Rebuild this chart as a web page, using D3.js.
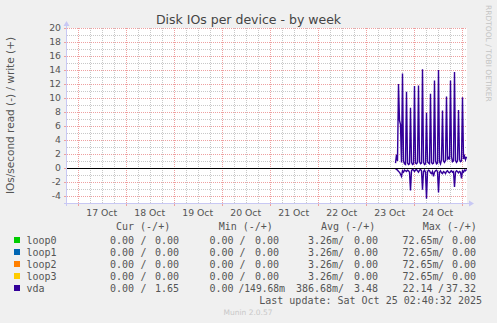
<!DOCTYPE html>
<html lang="en">
<head>
    <meta charset="UTF-8">
    <title>Disk IOs per device - by week</title>
    <script src="https://d3js.org/d3.v7.min.js"></script>
    <style>
        body { margin: 0; background: #f0f0f0; }
        svg { display: block; }
    </style>
</head>
<body>
    <svg width="497" height="323" id="chart"></svg>

    <script>
        // vda samples, one every 30 minutes starting at vdaStart (UTC)
        const vdaStart = Date.UTC(2025, 9, 23, 14, 40);
        const vdaWrite = [
            0.7, 1.9, 1.0, 12.0, 6.8, 6.2, 0.8, 13.5, 1.0, 0.6, 0.5, 10.9,
            0.7, 0.5, 0.6, 8.6, 0.8, 0.5, 0.6, 11.7, 0.7, 0.6, 0.8, 11.8,
            0.9, 0.6, 0.7, 14.1, 0.8, 0.5, 0.6, 7.9, 0.9, 0.7, 0.6, 10.6,
            0.8, 0.6, 0.7, 12.5, 1.0, 0.6, 0.7, 14.0, 0.9, 0.6, 1.2, 8.2,
            1.0, 0.8, 1.1, 10.2, 1.3, 1.5, 1.2, 12.5, 1.6, 0.9, 1.0, 13.7,
            1.1, 0.8, 1.0, 8.3, 1.2, 0.9, 1.0, 10.1, 1.3, 1.7, 1.2, 1.6
        ];
        const vdaRead = [
            0.1, 0.2, 0.3, 0.5, 0.6, 0.9, 1.2, 0.4, 0.6, 0.3, 0.4, 0.5,
            0.3, 0.4, 0.6, 3.2, 0.4, 0.2, 0.3, 0.5, 0.3, 0.2, 0.4, 0.6,
            0.3, 0.2, 0.4, 3.1, 0.5, 0.3, 0.6, 4.4, 0.5, 0.3, 0.4, 0.7,
            0.8, 0.5, 1.2, 0.6, 0.4, 0.3, 0.5, 3.5, 0.6, 0.4, 0.7, 0.8,
            0.5, 0.6, 0.8, 0.5, 0.4, 0.6, 0.7, 0.5, 0.4, 0.6, 0.5, 2.7,
            0.6, 0.4, 0.5, 0.7, 0.5, 0.6, 1.5, 0.4, 0.6, 0.3, 0.4, 0.2
        ];

        const yTicks = [-4, -2, 0, 2, 4, 6, 8, 10, 12, 14, 16, 18, 20];
        const dayLabels = ["17 Oct", "18 Oct", "19 Oct", "20 Oct", "21 Oct", "22 Oct", "23 Oct", "24 Oct"];

        // legend
        const names = ["loop0", "loop1", "loop2", "loop3", "vda"];
        const colors = ["#00cc00", "#0066b3", "#ff8000", "#ffcc00", "#330099"];
        const curRead = [0, 0, 0, 0, 0];
        const curWrite = [0, 0, 0, 0, 1.65];
        const minRead = [0, 0, 0, 0, 0];
        const minWrite = [0, 0, 0, 0, 0.14968];
        const avgRead = [0.00326, 0.00326, 0.00326, 0.00326, 0.38668];
        const avgWrite = [0, 0, 0, 0, 3.48];
        const maxRead = [0.07265, 0.07265, 0.07265, 0.07265, 22.14];
        const maxWrite = [0, 0, 0, 0, 37.32];
        const lastUpdate = "Last update: Sat Oct 25 02:40:32 2025";

        const svg = d3.select("#chart");
        const pLeft = 67, pRight = 467, pTop = 28, pBottom = 203;
        const tEnd = Date.UTC(2025, 9, 25, 2, 40);
        const tStart = tEnd - 400 * 30 * 60 * 1000;  // 400 px, 30 min per px

        const x = d3.scaleUtc().domain([tStart, tEnd]).range([pLeft, pRight]);
        const y = d3.scaleLinear().domain([-5, 20]).range([pBottom, pTop]);

        const sans = "'DejaVu Sans', sans-serif";
        const mono = "'DejaVu Sans Mono', monospace";
        const minorCol = "#c8c8c8";
        const majorCol = "#eea0a0";

        // canvas
        svg.append("rect").attr("x", pLeft).attr("y", pTop)
            .attr("width", pRight - pLeft).attr("height", pBottom - pTop)
            .attr("fill", "#ffffff");

        const grid = svg.append("g").attr("fill", "none").attr("stroke-width", 1);

        // horizontal grid, every unit, red on labelled values
        d3.range(-4, 21).forEach(v => {
            const yy = Math.round(y(v)) + 0.5;
            const major = v % 2 === 0;
            grid.append("line").attr("x1", pLeft).attr("x2", pRight)
                .attr("y1", yy).attr("y2", yy)
                .attr("stroke", major ? majorCol : minorCol)
                .attr("stroke-dasharray", "1,1");
            if (major) {
                grid.append("line").attr("x1", pLeft - 3).attr("x2", pLeft)
                    .attr("y1", yy).attr("y2", yy).attr("stroke", majorCol);
            }
        });

        // vertical grid, every 6 hours, red at midnight
        d3.utcHour.every(6).range(new Date(tStart), new Date(tEnd)).forEach(d => {
            const xx = Math.round(x(d)) + 0.5;
            const major = d.getUTCHours() === 0;
            grid.append("line").attr("x1", xx).attr("x2", xx)
                .attr("y1", pTop).attr("y2", pBottom)
                .attr("stroke", major ? majorCol : minorCol)
                .attr("stroke-dasharray", "1,1");
            if (major) {
                grid.append("line").attr("x1", xx).attr("x2", xx)
                    .attr("y1", pBottom).attr("y2", pBottom + 3).attr("stroke", majorCol);
            }
        });

        // axes
        const axisCol = "#c8c8f4";
        svg.append("line").attr("x1", pLeft - 0.5).attr("x2", pLeft - 0.5)
            .attr("y1", pBottom + 3).attr("y2", pTop - 4).attr("stroke", axisCol);
        svg.append("path").attr("d", `M${pLeft - 3.5},${pTop - 2} L${pLeft + 2.5},${pTop - 2} L${pLeft - 0.5},${pTop - 7} Z`)
            .attr("fill", axisCol);
        svg.append("line").attr("x1", pLeft - 3).attr("x2", pRight + 3)
            .attr("y1", pBottom + 0.5).attr("y2", pBottom + 0.5).attr("stroke", axisCol);
        svg.append("path").attr("d", `M${pRight + 2},${pBottom - 2.5} L${pRight + 2},${pBottom + 3.5} L${pRight + 7},${pBottom + 0.5} Z`)
            .attr("fill", axisCol);

        // tick labels
        svg.append("g").selectAll("text").data(yTicks).join("text")
            .attr("x", 61).attr("y", d => y(d) + 3.3)
            .attr("text-anchor", "end")
            .attr("font-family", sans).attr("font-size", 9.3).attr("fill", "#555")
            .text(d => d);

        const noons = dayLabels.map((s, i) => Date.UTC(2025, 9, 17 + i, 12));
        svg.append("g").selectAll("text").data(noons).join("text")
            .attr("x", d => x(d)).attr("y", 216)
            .attr("text-anchor", "middle")
            .attr("font-family", sans).attr("font-size", 9.3).attr("fill", "#555")
            .text((d, i) => dayLabels[i]);

        // vda read (down) and write (up)
        const pts = vdaWrite.map((w, i) => ({ t: vdaStart + i * 30 * 60 * 1000, w: w, r: vdaRead[i] }));
        const lineW = d3.line().x(d => Math.round(x(d.t)) + 0.5).y(d => y(d.w));
        const lineR = d3.line().x(d => Math.round(x(d.t)) + 0.5).y(d => y(-d.r));
        svg.append("path").attr("d", lineR(pts)).attr("fill", "none")
            .attr("stroke", colors[4]).attr("stroke-width", 1.4);
        svg.append("path").attr("d", lineW(pts)).attr("fill", "none")
            .attr("stroke", colors[4]).attr("stroke-width", 1.4);

        // zero line
        svg.append("line").attr("x1", pLeft).attr("x2", pRight)
            .attr("y1", Math.round(y(0)) + 0.5).attr("y2", Math.round(y(0)) + 0.5)
            .attr("stroke", "#000");

        // titles
        svg.append("text").attr("x", 248.5).attr("y", 24)
            .attr("text-anchor", "middle")
            .attr("font-family", sans).attr("font-size", 12.5).attr("fill", "#444")
            .text("Disk IOs per device - by week");

        svg.append("text").attr("transform", `translate(14,${(pTop + pBottom) / 2}) rotate(-90)`)
            .attr("text-anchor", "middle")
            .attr("font-family", sans).attr("font-size", 10.5).attr("fill", "#555")
            .text("IOs/second read (-) / write (+)");

        svg.append("text").attr("transform", "translate(485.5,5) rotate(90)")
            .attr("font-family", sans).attr("font-size", 7.5).attr("fill", "#c4c4c4")
            .text("RRDTOOL / TOBI OETIKER");

        svg.append("text").attr("x", 248).attr("y", 315)
            .attr("text-anchor", "middle")
            .attr("font-family", sans).attr("font-size", 7.5).attr("fill", "#c8c8c8")
            .text("Munin 2.0.57");

        // legend
        const legend = svg.append("g").attr("font-family", mono).attr("font-size", 10).attr("fill", "#555")
            .style("white-space", "pre");

        const columns = [
            { head: "Cur (-/+)", hx: 116, readEnd: 134, slash: 143.5, writeEnd: 179, r: curRead, w: curWrite },
            { head: "Min (-/+)", hx: 218.7, readEnd: 233.5, slash: 242.5, writeEnd: 279, r: minRead, w: minWrite },
            { head: "Avg (-/+)", hx: 321, readEnd: 332, slash: 341, writeEnd: 378, r: avgRead, w: avgWrite },
            { head: "Max (-/+)", hx: 422.7, readEnd: 432.5, slash: 441, writeEnd: 476, r: maxRead, w: maxWrite }
        ];

        function fmt(v) {
            if (v !== 0 && Math.abs(v) < 1) return [(v * 1000).toFixed(2), "m"];
            return [v.toFixed(2), ""];
        }

        columns.forEach(c => {
            legend.append("text").attr("x", c.hx).attr("y", 229.5).text(c.head);
        });

        names.forEach((name, i) => {
            const by = 243.5 + i * 12;
            legend.append("rect").attr("x", 14).attr("y", by - 6.5)
                .attr("width", 6).attr("height", 6).attr("fill", colors[i]);
            legend.append("text").attr("x", 26.5).attr("y", by).text(name);
            columns.forEach(c => {
                const rv = fmt(c.r[i]), wv = fmt(c.w[i]);
                legend.append("text").attr("x", c.readEnd).attr("y", by)
                    .attr("text-anchor", "end").text(rv[0]);
                legend.append("text").attr("x", c.readEnd).attr("y", by).text(rv[1]);
                // a wide write value pushes against the slash
                const wide = wv[0].length > 5;
                if (!wide) {
                    legend.append("text").attr("x", c.slash).attr("y", by)
                        .attr("text-anchor", "middle").text("/");
                }
                legend.append("text").attr("x", c.writeEnd).attr("y", by)
                    .attr("text-anchor", "end")
                    .attr("font-size", wide ? 9.6 : null)
                    .text((wide ? "/" : "") + wv[0]);
                legend.append("text").attr("x", c.writeEnd).attr("y", by).text(wv[1]);
            });
        });

        legend.append("text").attr("x", 482).attr("y", 303.5)
            .attr("text-anchor", "end").text(lastUpdate);
    </script>
</body>
</html>
